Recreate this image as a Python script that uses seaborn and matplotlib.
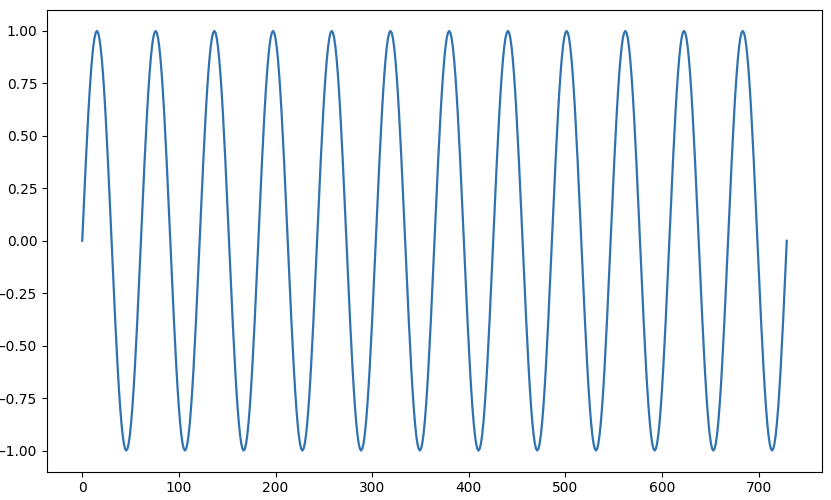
import numpy as np
import pandas as pd
import matplotlib
matplotlib.use("Agg")
import matplotlib.pyplot as plt
import seaborn as sns

# One full wave cycle (steps of 1/48 cycle)
cycle_values = [
    0.0, 0.1305, 0.2588, 0.3827, 0.5, 0.6088, 0.7071, 0.7934,
    0.8660, 0.9239, 0.9659, 0.9914, 1.0, 0.9914, 0.9659, 0.9239,
    0.8660, 0.7934, 0.7071, 0.6088, 0.5, 0.3827, 0.2588, 0.1305,
    0.0, -0.1305, -0.2588, -0.3827, -0.5, -0.6088, -0.7071, -0.7934,
    -0.8660, -0.9239, -0.9659, -0.9914, -1.0, -0.9914, -0.9659, -0.9239,
    -0.8660, -0.7934, -0.7071, -0.6088, -0.5, -0.3827, -0.2588, -0.1305,
]
n_cycles = 12          # number of full waves visible
x_start = 0            # first sample index
x_end = 729            # last sample index
end_value = 0.0        # value at the last sample

y_values = cycle_values * n_cycles + [end_value]
x_values = np.linspace(x_start, x_end, len(y_values))
df = pd.DataFrame({"x": x_values, "y": y_values})

fig = plt.figure(figsize=(8.31, 5.0), dpi=100)
ax = fig.add_axes([47 / 831, 28.5 / 500, 775 / 831, 461.5 / 500])
sns.lineplot(data=df, x="x", y="y", ax=ax, color="#2f72b0", linewidth=1.6)
ax.set_xlabel("")
ax.set_ylabel("")
ax.tick_params(labelsize=10)
fig.savefig("out.png", dpi=100)
